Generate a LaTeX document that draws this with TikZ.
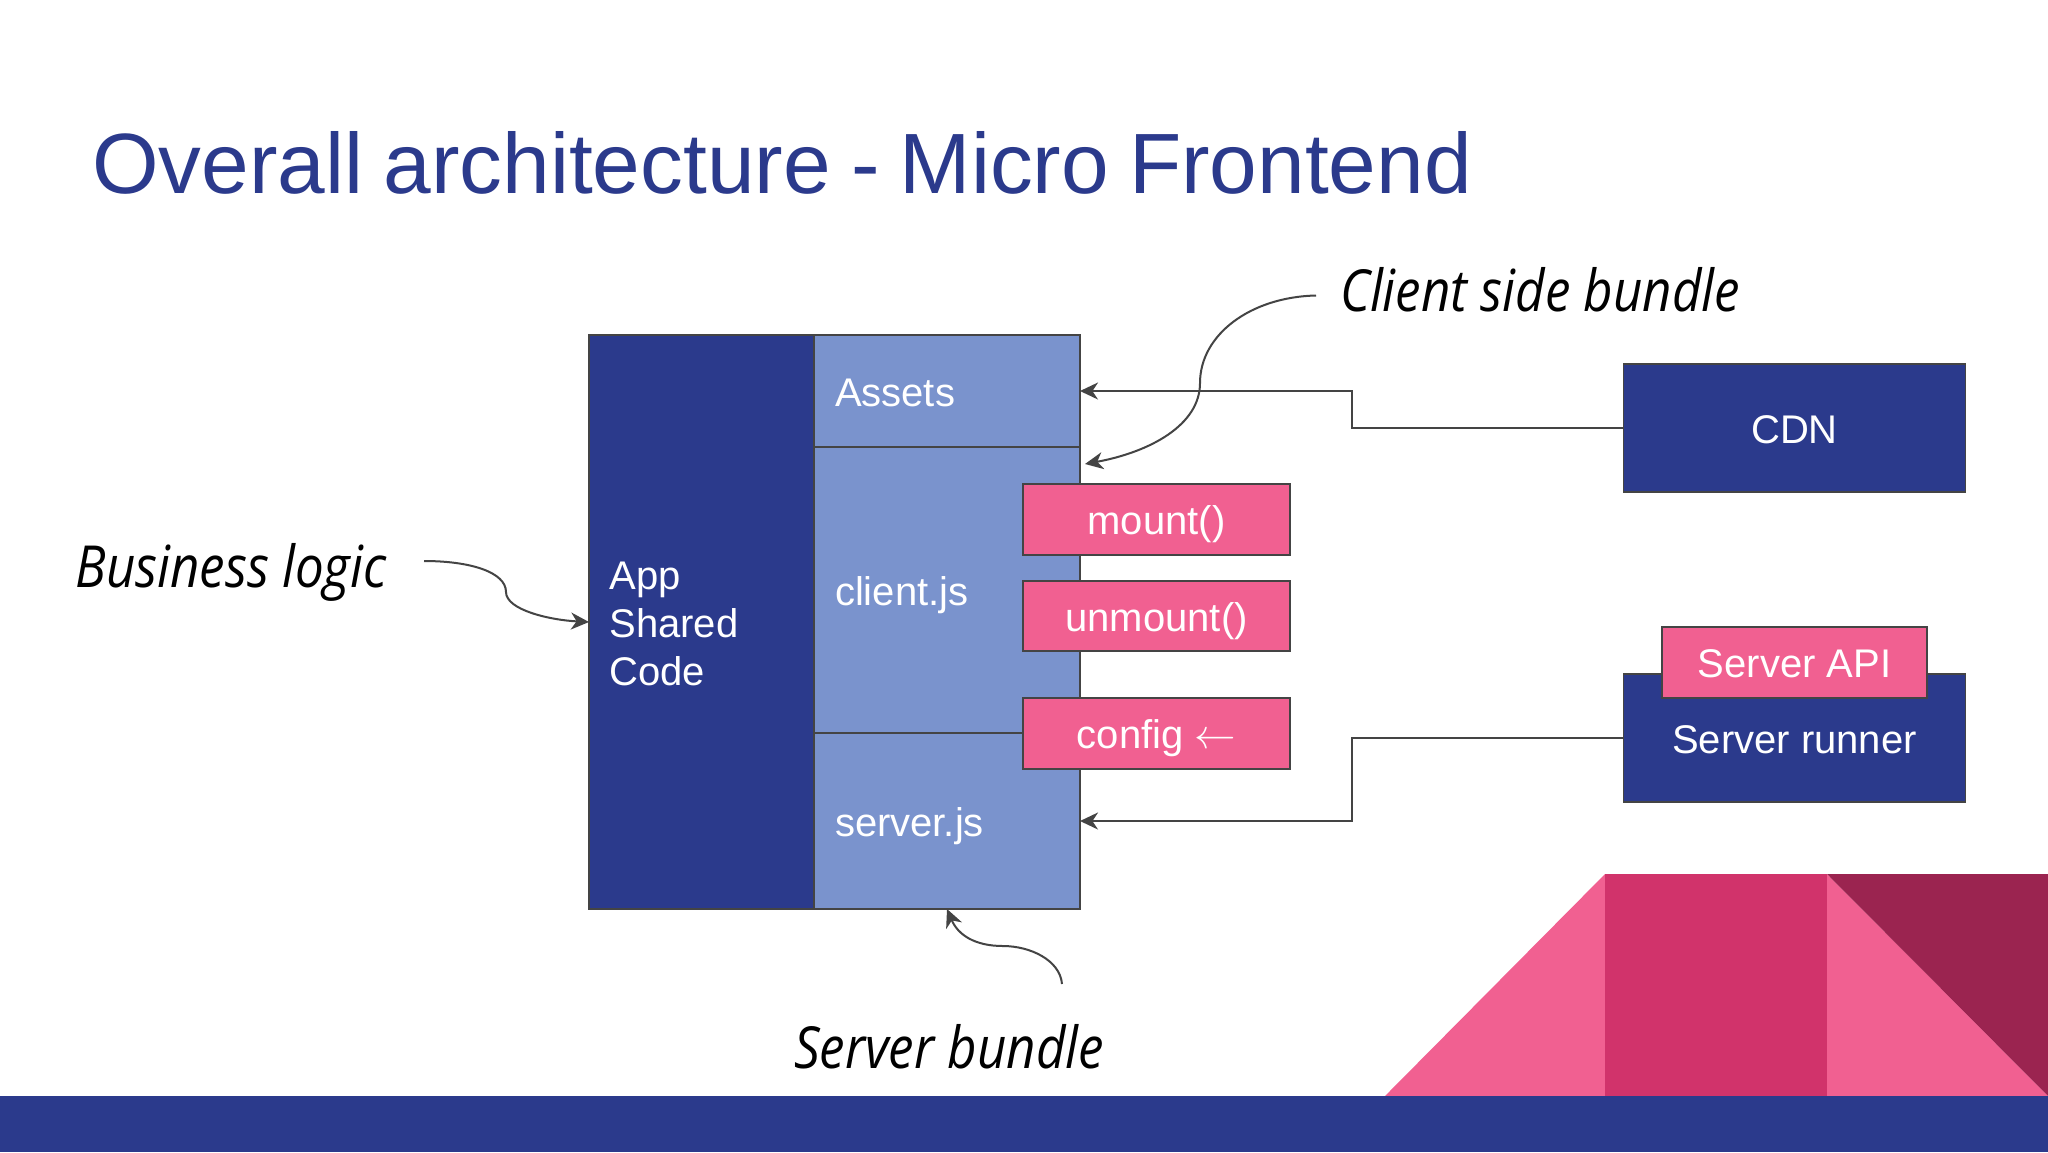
\documentclass[tikz,border=0pt]{standalone}
\usepackage{fontspec}
\usepackage{graphicx}
\setmainfont{Liberation Sans}
\newfontfamily\titlefont[WordSpace=0.85]{Liberation Sans}
\newfontfamily\handfont{Open Sans}
\newcommand{\handtxt}[1]{\scalebox{0.88}[1]{\handfont\itshape\fontsize{29}{32}\selectfont #1}}
\usetikzlibrary{arrows.meta}
\definecolor{navy}{HTML}{2B3A8C}
\definecolor{steel}{HTML}{7A93CD}
\definecolor{rose}{HTML}{F16091}
\definecolor{crimson}{HTML}{D1336B}
\definecolor{maroon}{HTML}{9B2450}
\definecolor{edge}{HTML}{444444}
\tikzset{
  x=0.5pt,y=-0.5pt,
  boxbase/.style={draw=edge,line width=0.8pt,inner sep=0pt,outer sep=0pt,text=white,font=\fontsize{20}{23.8}\selectfont},
  capcentre/.style={text height=15.4pt,text depth=0pt},
  navybox/.style={boxbase,fill=navy,align=center},
  steelbox/.style={boxbase,capcentre,fill=steel,align=left,inner xsep=10.5pt,text width=112pt},
  rosebox/.style={boxbase,capcentre,fill=rose,align=center},
  conn/.style={draw=edge,line width=1pt},
  connarrow/.style={conn,-{Stealth[length=9pt,width=8.5pt,inset=2.8pt]}},
  handtext/.style={inner sep=0pt,text=black},
}
\begin{document}
\begin{tikzpicture}
\useasboundingbox (0,0) rectangle (2048,1152);
\fill[white] (0,0) rectangle (2048,1152);
% footer decoration
\fill[rose] (1385,1096) -- (1605,874) -- (1605,1096) -- cycle;
\fill[crimson] (1605,874) rectangle (1827,1096);
\fill[rose] (1827,874) -- (2048,1096) -- (1827,1096) -- cycle;
\fill[maroon] (1827,874) -- (2048,874) -- (2048,1096) -- cycle;
\fill[navy] (0,1096) rectangle (2048,1152);
% title
\node[anchor=west,inner sep=0pt,text=navy,font=\titlefont\fontsize{42.8}{50}\selectfont] (title) at (92,163) {Overall architecture - Micro Frontend};
% architecture block
\node[navybox,align=left,minimum width=112.5pt,minimum height=287.2pt,text width=92pt,inner xsep=10.25pt] (app) at (701.5,622) {\rule{0pt}{15.6pt}App\\Shared\\Code};
\node[steelbox,minimum width=133pt,minimum height=56pt] (assets) at (947,391) {Assets};
\node[steelbox,minimum width=133pt,minimum height=143pt] (client) at (947,590) {client.js};
\node[steelbox,minimum width=133pt,minimum height=88pt] (server) at (947,821) {server.js};
\node[rosebox,minimum width=133.5pt,minimum height=35.7pt] (mount) at (1156.5,519.5) {mount()};
\node[rosebox,minimum width=133.5pt,minimum height=35.2pt] (unmount) at (1156.5,616) {unmount()};
\node[rosebox,minimum width=133.5pt,minimum height=35.5pt] (config) at (1156.5,733.5) {config $\leftarrow$};
% right side
\node[navybox,capcentre,minimum width=171pt,minimum height=64pt] (cdn) at (1794.5,428) {CDN};
\node[navybox,capcentre,minimum width=171pt,minimum height=64pt] (runner) at (1794.5,738) {Server runner};
\node[rosebox,minimum width=132.7pt,minimum height=35.3pt] (api) at (1794.5,662.4) {Server API};
% connectors
\coordinate (cdnA) at (1352,428);
\coordinate (cdnB) at (1352,391);
\draw[connarrow] (cdn.west) -- (cdnA) -- (cdnB) -- (assets.east);
\coordinate (runA) at (1352,738);
\coordinate (runB) at (1352,821);
\draw[connarrow] (runner.west) -- (runA) -- (runB) -- (server.east);
% handwritten labels
\node[handtext,anchor=center] (clientlabel) at (1540,290) {\handtxt{Client side bundle}};
\node[handtext,anchor=center] (bizlabel) at (231,572) {\handtxt{Business logic}};
\node[handtext,anchor=center] (serverlabel) at (949,1047) {\handtxt{Server bundle}};
% curved pointers
\coordinate (clientS) at (1316,295.5);
\coordinate (clientE) at (1085,464);
\draw[connarrow] (clientS) .. controls (1250,297) and (1200,335) .. (1200,383) .. controls (1200,425) and (1150,452) .. (clientE);
\coordinate (bizS) at (424,561);
\draw[connarrow] (bizS) .. controls (470,561) and (506,572) .. (506,592) .. controls (506,610) and (550,620) .. (app.west);
\coordinate (serverS) at (1062,984);
\draw[connarrow] (serverS) .. controls (1060,960) and (1030,946) .. (1003,946) .. controls (975,946) and (958,935) .. (server.south);
\end{tikzpicture}
\end{document}
